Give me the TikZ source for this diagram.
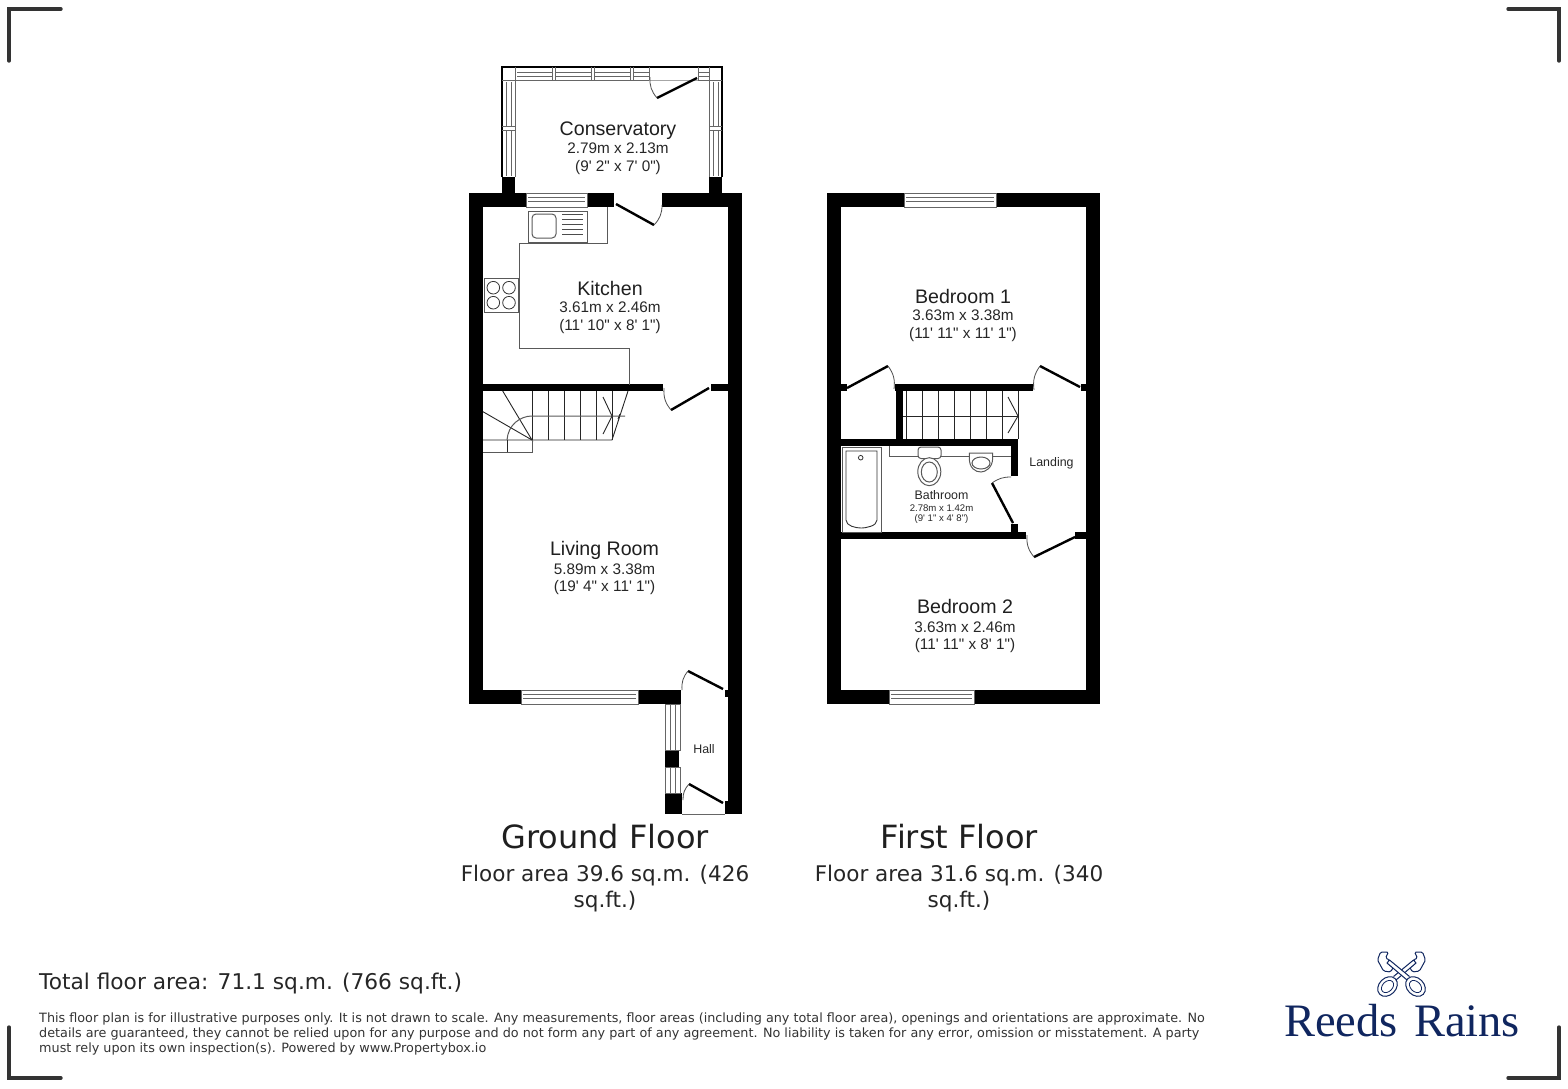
\documentclass[tikz,border=0pt]{standalone}
\usepackage{fontspec}
\newfontfamily\roomfont{Liberation Sans}
\newfontfamily\floorfont{DejaVu Sans}
\newfontfamily\logofont{Liberation Serif}
\definecolor{navy}{HTML}{10265F}
\definecolor{frame}{HTML}{333333}
\tikzset{
	wall/.style={fill=black, draw=none},
	fine/.style={draw=black!60, line width=0.8pt},
	worktop/.style={draw=black!65, line width=1pt},
	tread/.style={draw=black!85, line width=0.9pt},
	leaf/.style={draw=black, line width=2.4pt},
	swing/.style={draw=black!70, line width=0.8pt},
	corner/.style={draw=frame, line width=3.4pt, line cap=round},
	roomname/.style={font=\roomfont\fontsize{19.6}{22}\selectfont, text=black!88, inner sep=0pt},
	roomdim/.style={font=\roomfont\fontsize{15.3}{18}\selectfont, text=black!85, inner sep=0pt},
	smallname/.style={font=\roomfont\fontsize{12.4}{14}\selectfont, text=black!85, inner sep=0pt},
	smalldim/.style={font=\roomfont\fontsize{9.6}{11}\selectfont, text=black!85, inner sep=0pt},
	floorname/.style={font=\floorfont\fontsize{32}{36}\selectfont, text=black!88, inner sep=0pt},
	floorarea/.style={font=\floorfont\fontsize{21.55}{26}\selectfont, text=black!85, inner sep=0pt},
	totalarea/.style={font=\floorfont\fontsize{21.7}{26}\selectfont, text=black!85, inner sep=0pt, anchor=west},
	smallprint/.style={font=\floorfont\fontsize{12.78}{15}\selectfont, text=black!80, inner sep=0pt, anchor=west},
}
\begin{document}
\begin{tikzpicture}[x=1pt, y=-1pt]
	\useasboundingbox (0, 0) rectangle (1568, 1088);

	% page corners
	\draw[corner] (9, 61) -- (9, 9) -- (61, 9);
	\draw[corner] (1508, 9) -- (1559, 9) -- (1559, 61);
	\draw[corner] (9, 1027) -- (9, 1078) -- (61, 1078);
	\draw[corner] (1559, 1027) -- (1559, 1078) -- (1508, 1078);

	% ground floor walls
	\fill[wall] (469, 193) rectangle (483, 704);
	\fill[wall] (728, 193) rectangle (742, 814);
	\fill[wall] (469, 193) rectangle (614, 207);
	\fill[wall] (662, 193) rectangle (742, 207);
	\fill[wall] (469, 690) rectangle (681, 704);
	\fill[wall] (483, 384) rectangle (663, 391);
	\fill[wall] (711, 384) rectangle (728, 391);
	\fill[wall] (725, 690) rectangle (728, 697);
	\fill[wall] (665, 750) rectangle (679, 767);
	\fill[wall] (665, 793) rectangle (682, 814);
	\fill[wall] (725, 801) rectangle (728, 814);
	\draw[fine] (682, 814) -- (725, 814);

	% conservatory
	\fill[wall] (502, 177) rectangle (515, 193);
	\fill[wall] (709, 177) rectangle (722, 193);
	\draw[draw=black, line width=1.2pt] (502, 177) -- (502, 67) -- (722, 67) -- (722, 177);
	\draw[fine] (515, 177) -- (515, 80) -- (649, 80);
	\draw[fine] (698, 80) -- (709, 80) -- (709, 177);
	\draw[fine] (502, 80) -- (515, 80) -- (515, 67);
	\draw[fine] (722, 80) -- (709, 80) -- (709, 67);
	\foreach \ypos in {72.5, 76} {
		\draw[fine] (517, \ypos) -- (649, \ypos);
		\draw[fine] (698, \ypos) -- (709, \ypos);
	}
	\draw[draw=black!35, line width=0.7pt] (649, 80) -- (698, 80);
	\draw[fine] (649, 67) -- (649, 80);
	\draw[fine] (698, 67) -- (698, 80);
	\foreach \xpos in {552, 591, 630} {
		\fill[white] (\xpos, 68) rectangle (\xpos + 3.5, 79);
		\draw[fine] (\xpos, 67) -- (\xpos, 80);
		\draw[fine] (\xpos + 3.5, 67) -- (\xpos + 3.5, 80);
	}
	\foreach \xpos in {506.7, 511} {
		\draw[fine] (\xpos, 82) -- (\xpos, 176);
		\draw[fine] (\xpos + 207, 82) -- (\xpos + 207, 176);
	}
	\fill[white] (503, 126) rectangle (514, 130.5);
	\fill[white] (710, 126) rectangle (721, 130.5);
	\foreach \ypos in {126, 130.5} {
		\draw[fine] (502, \ypos) -- (515, \ypos);
		\draw[fine] (709, \ypos) -- (722, \ypos);
	}

	% first floor walls
	\fill[wall] (827, 193) rectangle (841, 704);
	\fill[wall] (1086, 193) rectangle (1100, 704);
	\fill[wall] (827, 193) rectangle (1100, 207);
	\fill[wall] (827, 690) rectangle (1100, 704);
	\fill[wall] (841, 384) rectangle (847, 391);
	\fill[wall] (895, 384) rectangle (1033, 391);
	\fill[wall] (1081, 384) rectangle (1086, 391);
	\fill[wall] (896, 391) rectangle (903, 439);
	\fill[wall] (841, 439) rectangle (1018, 446);
	\fill[wall] (1011, 446) rectangle (1018, 476);
	\fill[wall] (1011, 524) rectangle (1018, 532);
	\fill[wall] (841, 532) rectangle (1026, 539);
	\fill[wall] (1075, 532) rectangle (1086, 539);

	% windows in the outer walls
	\foreach \xa/\xb/\ya in {526/587/193, 521/638/690, 904/996/193, 889/974/690} {
		\fill[white] (\xa, \ya) rectangle (\xb, \ya + 14);
		\draw[fine] (\xa, \ya) rectangle (\xb, \ya + 14);
		\draw[fine] (\xa + 2, \ya + 4.5) -- (\xb - 2, \ya + 4.5);
		\draw[fine] (\xa + 2, \ya + 8.5) -- (\xb - 2, \ya + 8.5);
	}
	\foreach \ya/\yb in {704/750, 767/793} {
		\draw[fine] (665, \ya) rectangle (680, \yb);
		\draw[fine] (670, \ya) -- (670, \yb);
		\draw[fine] (675, \ya) -- (675, \yb);
	}

	% ground floor doors
	\draw[leaf] (697, 78) -- (657, 98);
	\draw[swing] (657, 98) to[bend left=22] (650, 77);
	\draw[leaf] (616, 204) -- (654, 225);
	\draw[swing] (654, 225) to[bend right=22] (662, 205);
	\draw[leaf] (709, 388) -- (671, 410);
	\draw[swing] (671, 410) to[bend left=22] (664, 388);
	\draw[leaf] (723, 689) -- (688, 671);
	\draw[swing] (688, 671) to[bend right=22] (682, 690);
	\draw[leaf] (723, 803) -- (689, 784);
	\draw[swing] (689, 784) to[bend right=22] (683, 800);

	% kitchen fittings
	\draw[worktop] (607.5, 207) -- (607.5, 243) -- (519.5, 243) -- (519.5, 348) -- (629.5, 348) -- (629.5, 385);
	\draw[worktop] (528, 211) rectangle (587, 242);
	\draw[worktop, rounded corners=4pt] (532, 214) rectangle (556, 238);
	\foreach \ypos in {214.5, 219.5, 224.5, 229.5, 234.5} {
		\draw[draw=black!70, line width=0.8pt] (562, \ypos) -- (583, \ypos);
	}
	\draw[worktop] (484, 278) rectangle (518, 312);
	\foreach \xpos in {493.3, 509} {
		\foreach \ypos in {287.7, 302.7} {
			\draw[draw=black!80, line width=0.8pt] (\xpos, \ypos) circle (6.3);
		}
	}

	% ground floor stairs
	\foreach \xpos in {532, 548, 564, 580, 596, 612} {
		\draw[tread] (\xpos, 391) -- (\xpos, 440);
	}
	\draw[tread] (483, 440) -- (612, 440) -- (628, 391);
	\draw[tread] (502.7, 391) -- (532, 440) -- (483, 411.7);
	\draw[worktop] (483, 452) -- (532, 452) -- (532, 440);
	\draw[tread] (507, 440) -- (507, 452);
	\draw[worktop] (507, 440) .. controls (508, 425) and (520, 416) .. (532, 416) -- (625, 416);
	\draw[tread] (603, 397) -- (612, 416) -- (603, 434);
	\draw[tread] (620, 414) -- (618, 419);

	% first floor doors
	\draw[leaf] (847, 388) -- (888, 366);
	\draw[swing] (888, 366) to[bend left=22] (894, 389);
	\draw[leaf] (1080, 387) -- (1040, 366);
	\draw[swing] (1040, 366) to[bend right=22] (1034, 390);
	\draw[leaf] (1013, 523) -- (992, 483);
	\draw[swing] (992, 483) to[bend left=18] (1011, 477);
	\draw[leaf] (1075, 537) -- (1034, 557);
	\draw[swing] (1034, 557) to[bend left=22] (1027, 535);

	% first floor stairs
	\foreach \xpos in {906, 922, 938, 954, 970, 986, 1002, 1018} {
		\draw[tread] (\xpos, 391) -- (\xpos, 439);
	}
	\draw[tread] (903, 416) -- (1018, 416);
	\draw[tread] (1008, 397) -- (1018, 416) -- (1008, 433);

	% bathroom fittings
	\draw[worktop] (842, 447) rectangle (881, 532);
	\draw[draw=black!80, line width=0.9pt] (846, 451) -- (877, 451) -- (877, 520) .. controls (877, 526) and (866, 528) .. (861, 528) .. controls (856, 528) and (846, 526) .. (846, 520) -- cycle;
	\draw[draw=black!80, line width=0.8pt] (860.7, 457.7) circle (2.3);
	\draw[worktop] (889.5, 446) -- (889.5, 456.7) -- (1011, 456.7);
	\draw[worktop, fill=white, rounded corners=3pt] (918, 447) rectangle (941, 458.5);
	\draw[worktop, fill=white] (929.3, 471.7) ellipse (11.5 and 14);
	\draw[worktop] (929.3, 472) ellipse (8 and 10);
	\draw[worktop, fill=white] (969.3, 453) -- (992.7, 453) -- (992.7, 458) .. controls (992.7, 468) and (985, 472) .. (981, 472) .. controls (975, 472) and (969.3, 468) .. (969.3, 458) -- cycle;
	\draw[worktop] (981, 463) ellipse (9 and 6);

	% room labels
	\node (ConservatoryName) [roomname] at (618, 130.5) {Conservatory};
	\node (ConservatorySize) [roomdim] at (618, 148.5) {2.79m x 2.13m};
	\node (ConservatoryFeet) [roomdim] at (618, 168) {(9' 2" x 7' 0")};
	\node (KitchenName) [roomname] at (610, 288) {Kitchen};
	\node (KitchenSize) [roomdim] at (610, 307.5) {3.61m x 2.46m};
	\node (KitchenFeet) [roomdim] at (610, 327) {(11' 10" x 8' 1")};
	\node (LivingName) [roomname] at (604.5, 550.5) {Living Room};
	\node (LivingSize) [roomdim] at (604.5, 569) {5.89m x 3.38m};
	\node (LivingFeet) [roomdim] at (604.5, 588) {(19' 4" x 11' 1")};
	\node (HallName) [smallname] at (704, 749) {Hall};
	\node (BedOneName) [roomname] at (963, 296) {Bedroom 1};
	\node (BedOneSize) [roomdim] at (963, 315.5) {3.63m x 3.38m};
	\node (BedOneFeet) [roomdim] at (963, 335) {(11' 11" x 11' 1")};
	\node (BedTwoName) [roomname] at (965, 606.5) {Bedroom 2};
	\node (BedTwoSize) [roomdim] at (965, 627) {3.63m x 2.46m};
	\node (BedTwoFeet) [roomdim] at (965, 646) {(11' 11" x 8' 1")};
	\node (LandingName) [smallname] at (1051.5, 463.5) {Landing};
	\node (BathName) [smallname] at (941.5, 495.5) {Bathroom};
	\node (BathSize) [smalldim] at (941.5, 508) {2.78m x 1.42m};
	\node (BathFeet) [smalldim] at (941.5, 519.5) {(9' 1" x 4' 8")};

	% floor captions
	\node (Ground) [floorname] at (605, 837) {Ground Floor};
	\node (GroundArea) [floorarea] at (605, 875.5) {Floor area 39.6 sq.m. (426};
	\node (GroundAreaEnd) [floorarea] at (605, 901.5) {sq.ft.)};
	\node (First) [floorname] at (959.5, 837) {First Floor};
	\node (FirstArea) [floorarea] at (959, 875.5) {Floor area 31.6 sq.m. (340};
	\node (FirstAreaEnd) [floorarea] at (959, 901.5) {sq.ft.)};
	\node (Total) [totalarea] at (39, 983) {Total floor area: 71.1 sq.m. (766 sq.ft.)};
	\node (NoteOne) [smallprint] at (39, 1019) {This floor plan is for illustrative purposes only. It is not drawn to scale. Any measurements, floor areas (including any total floor area), openings and orientations are approximate. No};
	\node (NoteTwo) [smallprint] at (39, 1034) {details are guaranteed, they cannot be relied upon for any purpose and do not form any part of any agreement. No liability is taken for any error, omission or misstatement. A party};
	\node (NoteThree) [smallprint] at (39, 1049) {must rely upon its own inspection(s). Powered by www.Propertybox.io};

	% logo
	\foreach \side in {1, -1} {
		\begin{scope}[shift={(1401.5, 0)}, xscale=\side]
			\draw[draw=navy, line width=1pt, fill=white, rounded corners=1.5pt] (13, 952) -- (21, 952) -- (24, 960) -- (18, 971) -- (11, 972) -- (8, 967) -- (13, 965) -- (12, 960) -- (16, 958) -- cycle;
			\draw[draw=navy, line width=1pt, fill=white] (-8, 976.5) -- (12, 960) -- (14.5, 963) -- (-5.5, 980);
			\draw[draw=navy, line width=1pt, fill=white, rotate around={45:(-14, 986.5)}] (-14, 986.5) ellipse (11 and 8.5);
			\draw[draw=navy, line width=0.8pt, rotate around={45:(-14, 986.5)}] (-14, 986.5) ellipse (7 and 5);
		\end{scope}
	}
	\node (Logo) [font=\logofont\fontsize{46.5}{50}\selectfont, text=navy, inner sep=0pt] at (1402, 1021) {Reeds\hspace{16.4pt}Rains};
\end{tikzpicture}
\end{document}
